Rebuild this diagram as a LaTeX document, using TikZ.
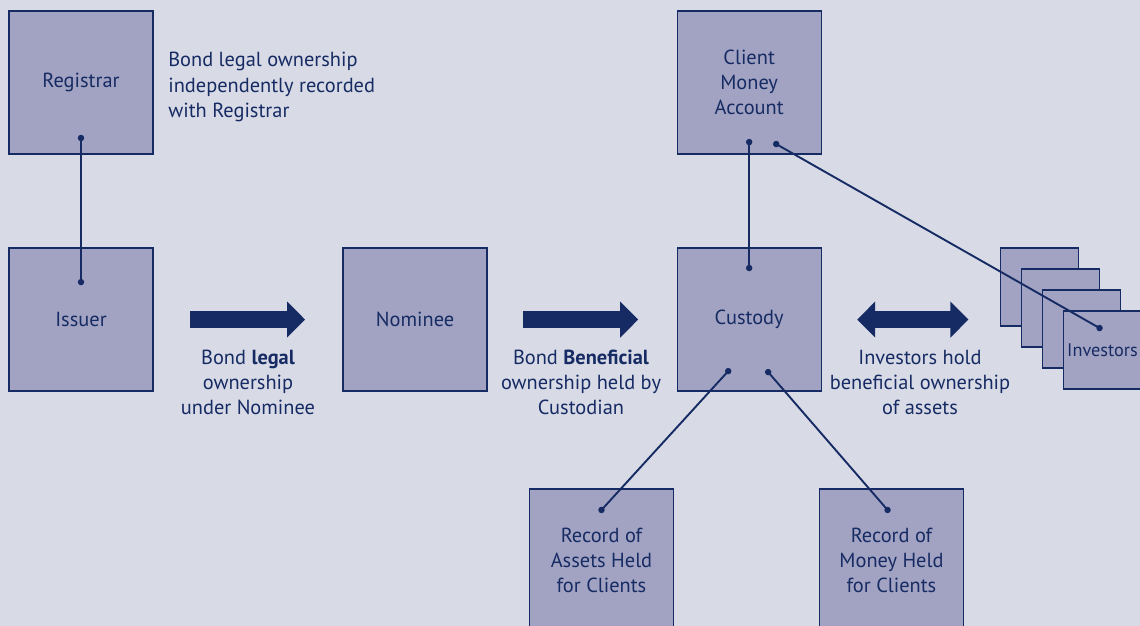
\documentclass[tikz,border=0pt]{standalone}
\usepackage{fontspec}
\setmainfont{PT Sans}
\usetikzlibrary{positioning, arrows.meta}
\definecolor{bgblue}{RGB}{216,218,230}
\definecolor{boxfill}{RGB}{162,163,194}
\definecolor{navy}{RGB}{22,43,99}
\tikzset{
    box/.style={draw=navy, fill=boxfill, line width=0.9pt, minimum width=3.6cm, minimum height=3.575cm, text=navy, align=center, inner sep=0pt, outer sep=0pt}, % the big squares
    mini/.style={box, minimum width=1.95cm, minimum height=1.95cm}, % the stacked investor squares
    note/.style={text=navy, align=center, inner sep=0pt}, % free text
    dot/.style={circle, fill=navy, inner sep=0pt, minimum size=4.6pt}, % end points of the links
    link/.style={draw=navy, line width=1.35pt},
    bigarrow/.style={draw=navy, line width=12pt, -{Triangle[length=12.8pt, width=24.9pt]}}, % thick block arrows
    node distance=2.35cm and 4.75cm, % vertical and horizontal gap between boxes
}

\begin{document}
\begin{tikzpicture}[x=0.025cm, y=-0.025cm, font=\fontsize{14.5}{18}\selectfont]
    \useasboundingbox (0,0) rectangle (1140,626);
    \fill[bgblue] (0,0) rectangle (1140,626);
    \clip (0,0) rectangle (1140,626);

    % boxes
    \node[box] (reg) at (81,82.5) {Registrar};
    \node[box, below=of reg] (iss) {Issuer};
    \node[box, right=of iss] (nom) {Nominee};
    \node[box, right=of nom] (cus) {Custody};
    \node[box, above=of cus] (cma) {Client\\Money\\Account};
    \node[box, anchor=north] (reca) at (601.5,489) {Record of\\Assets Held\\for Clients};
    \node[box, anchor=north] (recm) at (891.5,489) {Record of\\Money Held\\for Clients};
    \foreach \i in {1,2,3}
        \node[mini] (inv\i) at ({1039.5+21*(\i-1)},{287+21*(\i-1)}) {};
    \node[mini, font=\fontsize{13}{16}\selectfont] (inv4) at (1102.5,350) {Investors};

    % texts
    \node[note, align=left, right=0.375cm of reg, yshift=-3.2pt] (regnote) {Bond legal ownership\\independently recorded\\with Registrar};
    \node[note] (legalnote) at (248,382.5) {Bond \textbf{legal}\\ownership\\under Nominee};
    \node[note] (benenote) at (581,382.5) {Bond \textbf{Beneficial}\\ownership held by\\Custodian};
    \node[note] (invnote) at (920,382.5) {Investors hold\\beneficial ownership\\of assets};

    % block arrows
    \draw[bigarrow, shorten <=26.3pt, shorten >=27pt] (iss) -- (nom);
    \draw[bigarrow, shorten <=25.6pt, shorten >=27.7pt] (nom) -- (cus);
    \draw[bigarrow, {Triangle[length=12.8pt, width=24.9pt]}-{Triangle[length=12.8pt, width=24.9pt]}, shorten <=25.6pt, shorten >=22.8pt] (cus.east) -- (cus.east -| inv1.west);

    % link dots
    \node[dot] (reg-d) at ([yshift=11.4pt]reg.south) {};
    \node[dot] (iss-d) at ([yshift=-24.2pt]iss.north) {};
    \node[dot] (cma-d1) at ([yshift=8.5pt]cma.south) {};
    \node[dot] (cma-d2) at ([xshift=19.2pt, yshift=7.1pt]cma.south) {};
    \node[dot] (cus-dt) at ([yshift=-14.2pt]cus.north) {};
    \node[dot] (cus-dl) at ([xshift=-14.9pt, yshift=14.2pt]cus.south) {};
    \node[dot] (cus-dr) at ([xshift=13.5pt, yshift=13.5pt]cus.south) {};
    \node[dot] (reca-d) at ([yshift=-14.9pt]reca.north) {};
    \node[dot] (recm-d) at ([xshift=-2.8pt, yshift=-14.9pt]recm.north) {};
    \node[dot] (inv-d) at ([xshift=-2.1pt, yshift=15.6pt]inv4.center) {};

    % links
    \draw[link] (reg-d.center) -- (iss-d.center);
    \draw[link] (cma-d1.center) -- (cus-dt.center);
    \draw[link] (cma-d2.center) -- (inv-d.center);
    \draw[link] (cus-dl.center) -- (reca-d.center);
    \draw[link] (cus-dr.center) -- (recm-d.center);
\end{tikzpicture}
\end{document}
